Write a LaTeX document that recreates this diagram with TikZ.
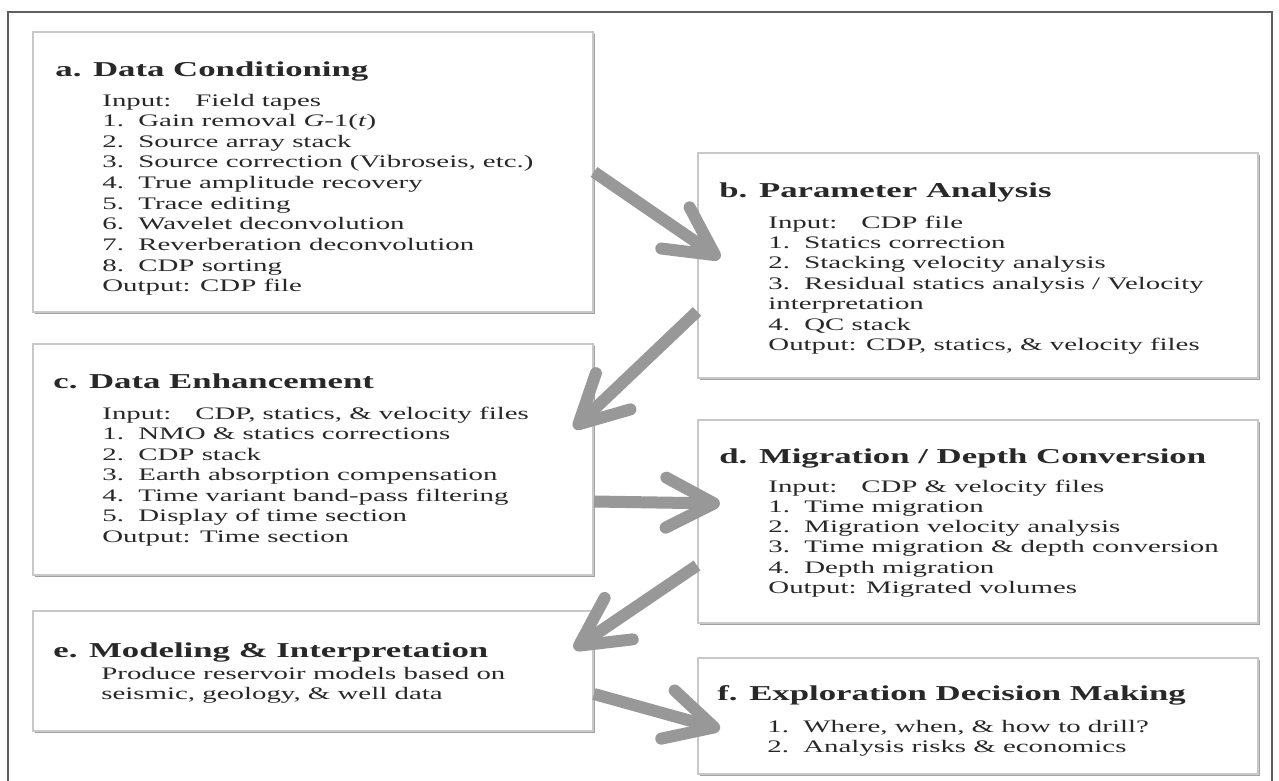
\documentclass[tikz,border=0pt]{standalone}
\usepackage{fontspec}
\setmainfont{Liberation Serif}[FakeStretch=1.64]
\usetikzlibrary{arrows.meta,shadows,calc}

\definecolor{boxline}{RGB}{200,200,200}
\definecolor{flowgray}{RGB}{152,152,152}
\definecolor{ink}{RGB}{40,40,40}
\definecolor{framegray}{RGB}{95,95,95}

\newcommand{\nr}[1]{\makebox[18pt][l]{#1.}}

\begin{document}
\begin{tikzpicture}[
    x=0.5pt, y=-0.5pt,
    stage/.style={
        draw=boxline,
        line width=1pt,
        fill=white,
        anchor=north west,
        inner sep=0pt,
        minimum width=280pt,
        drop shadow={shadow xshift=1.1pt, shadow yshift=-1.1pt, fill=black!45, opacity=0.8}
    },
    heading/.style={
        anchor=base west,
        inner sep=0pt,
        text=ink,
        font=\fontsize{10.6}{12}\selectfont\bfseries
    },
    entry/.style={
        anchor=base west,
        inner sep=0pt,
        text=ink,
        font=\fontsize{8.8}{10.3}\selectfont
    },
    flow/.style={
        draw=flowgray,
        line width=6pt,
        -{Straight Barb[length=24pt, width=25pt, round]}
    }
]

\useasboundingbox (0,0) rectangle (1279,781);

% outer frame
\draw[framegray, line width=0.75pt] (8,12) rectangle (1272,800);

% a. data conditioning
\node[stage, minimum height=140pt] (cond) at (32,31) {};
\node[heading] (cond-title) at (55,77) {a. Data Conditioning};
\foreach \txt [count=\i from 0] in {
    {Input:\hspace{12pt}Field tapes},
    {\nr{1}Gain removal \textit{G}-1(\textit{t})},
    {\nr{2}Source array stack},
    {\nr{3}Source correction (Vibroseis, etc.)},
    {\nr{4}True amplitude recovery},
    {\nr{5}Trace editing},
    {\nr{6}Wavelet deconvolution},
    {\nr{7}Reverberation deconvolution},
    {\nr{8}CDP sorting},
    {Output: CDP file}}
    \node[entry] (cond-\i) at (102,106+20.65*\i) {\txt};

% b. parameter analysis
\node[stage, minimum height=112.5pt] (param) at (697,152) {};
\node[heading] (param-title) at (719,197) {b. Parameter Analysis};
\foreach \txt [count=\i from 0] in {
    {Input:\hspace{12pt}CDP file},
    {\nr{1}Statics correction},
    {\nr{2}Stacking velocity analysis},
    {\nr{3}Residual statics analysis / Velocity},
    {interpretation},
    {\nr{4}QC stack},
    {Output: CDP, statics, \& velocity files}}
    \node[entry] (param-\i) at (768,228+20.4*\i) {\txt};

% c. data enhancement
\node[stage, minimum height=115.5pt] (enhance) at (32,343) {};
\node[heading] (enhance-title) at (53,388) {c. Data Enhancement};
\foreach \txt [count=\i from 0] in {
    {Input:\hspace{12pt}CDP, statics, \& velocity files},
    {\nr{1}NMO \& statics corrections},
    {\nr{2}CDP stack},
    {\nr{3}Earth absorption compensation},
    {\nr{4}Time variant band-pass filtering},
    {\nr{5}Display of time section},
    {Output: Time section}}
    \node[entry] (enhance-\i) at (102,419+20.5*\i) {\txt};

% d. migration / depth conversion
\node[stage, minimum height=101.5pt] (migrate) at (697,419) {};
\node[heading] (migrate-title) at (719,463) {d. Migration / Depth Conversion};
\foreach \txt [count=\i from 0] in {
    {Input:\hspace{12pt}CDP \& velocity files},
    {\nr{1}Time migration},
    {\nr{2}Migration velocity analysis},
    {\nr{3}Time migration \& depth conversion},
    {\nr{4}Depth migration},
    {Output: Migrated volumes}}
    \node[entry] (migrate-\i) at (768,492+20.3*\i) {\txt};

% e. modeling & interpretation
\node[stage, minimum height=60pt] (model) at (32,610) {};
\node[heading] (model-title) at (53,657) {e. Modeling \& Interpretation};
\foreach \txt [count=\i from 0] in {
    {Produce reservoir models based on},
    {seismic, geology, \& well data}}
    \node[entry] (model-\i) at (101,679+20.5*\i) {\txt};

% f. exploration decision making
\node[stage, minimum height=58pt] (decide) at (697,657) {};
\node[heading] (decide-title) at (717,700) {f. Exploration Decision Making};
\foreach \txt [count=\i from 0] in {
    {\nr{1}Where, when, \& how to drill?},
    {\nr{2}Analysis risks \& economics}}
    \node[entry] (decide-\i) at (767,732+20.5*\i) {\txt};

% Connections
\draw[flow] (cond.east) -- ($(param.west)+(23,-7)$);
\draw[flow] ($(param.west)+(0,46)$) -- ($(enhance.east)+(-20,-31)$);
\draw[flow] ($(enhance.east)+(0,42)$) -- ($(migrate.west)+(23,-18)$);
\draw[flow] ($(migrate.west)+(0,44)$) -- ($(model.east)+(-20,-22)$);
\draw[flow] ($(model.east)+(0,23)$) -- ($(decide.west)+(23,13)$);

\end{tikzpicture}
\end{document}
